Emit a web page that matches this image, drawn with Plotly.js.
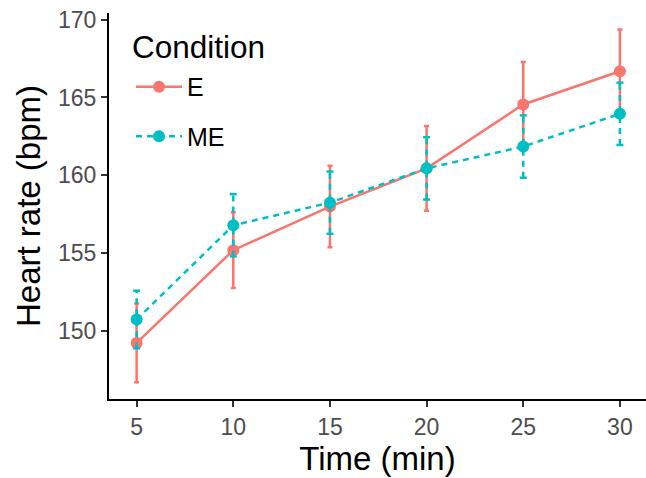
<!DOCTYPE html>
<html>
<head>
<meta charset="utf-8">
<script src="https://cdn.plot.ly/plotly-3.0.1.min.js"></script>
<style>html,body{margin:0;padding:0;background:#fff;overflow:hidden}#chart{width:646px;height:478px}</style>
</head>
<body>
<div id="chart"></div>
<script>
// Data
const time = [5, 10, 15, 20, 25, 30];
const E_mean = [149.25, 155.2, 158.0, 160.45, 164.55, 166.68];
const E_se = [2.53, 2.43, 2.62, 2.72, 2.72, 2.68];
const ME_mean = [150.75, 156.8, 158.25, 160.45, 161.85, 163.95];
const ME_se = [1.85, 2.0, 2.0, 2.0, 2.0, 2.0];
const yTicks = [150, 155, 160, 165, 170];
const legendTitle = 'Condition';

const colE = '#F8766D';
const colME = '#00BFC4';
const FONT = 'Liberation Sans, Arial, Helvetica, sans-serif';

// ME dashed error bars built from the data as null-separated segments
const meBarX = [], meBarY = [];
const meCapX = [], meCapY = [];
time.forEach((t, i) => {
  meBarX.push(t, t, null);
  meBarY.push(ME_mean[i] - ME_se[i], ME_mean[i] + ME_se[i], null);
  meCapX.push(t, t);
  meCapY.push(ME_mean[i] - ME_se[i], ME_mean[i] + ME_se[i]);
});

const traces = [
  {
    x: time, y: E_mean, name: 'E', type: 'scatter', mode: 'lines+markers',
    legendgroup: 'E',
    line: {color: colE, width: 2.5},
    marker: {color: colE, size: 12},
    error_y: {type: 'data', array: E_se, visible: true, color: colE, thickness: 2.5, width: 2.5}
  },
  {
    x: meBarX, y: meBarY, type: 'scatter', mode: 'lines', showlegend: false, hoverinfo: 'skip',
    line: {color: colME, width: 2.5, dash: '6px,5px'}, connectgaps: false
  },
  {
    x: meCapX, y: meCapY, type: 'scatter', mode: 'markers', showlegend: false, hoverinfo: 'skip',
    marker: {symbol: 'line-ew', size: 5, line: {color: colME, width: 2.5}}
  },
  {
    x: time, y: ME_mean, name: 'ME', type: 'scatter', mode: 'lines+markers',
    legendgroup: 'ME',
    line: {color: colME, width: 2.5, dash: '6px,5px'},
    marker: {color: colME, size: 12}
  }
];

const layout = {
  width: 646, height: 478,
  margin: {l: 109, r: 0, t: 13, b: 79, pad: 0},
  paper_bgcolor: '#fff', plot_bgcolor: '#fff',
  font: {family: FONT, color: '#000'},
  showlegend: true,
  legend: {
    x: 0.041, y: 0.868, xanchor: 'left', yanchor: 'top',
    bgcolor: 'rgba(0,0,0,0)',
    font: {size: 25, family: FONT, color: '#000'},
    tracegroupgap: 14,
    itemwidth: 46
  },
  annotations: [{
    text: legendTitle, xref: 'paper', yref: 'paper',
    x: 0.039, y: 0.912, xanchor: 'left', yanchor: 'middle',
    showarrow: false, font: {size: 31.5, family: FONT, color: '#000'}
  }],
  xaxis: {
    range: [3.57, 31.35],
    tickvals: time,
    ticks: 'outside', ticklen: 6, tickwidth: 2, tickcolor: '#333',
    showline: true, linewidth: 2, linecolor: '#000',
    showgrid: false, zeroline: false,
    tickfont: {size: 23, family: FONT, color: '#4D4D4D'},
    title: {text: 'Time (min)', font: {size: 33, family: FONT, color: '#000'}, standoff: 6}
  },
  yaxis: {
    range: [145.65, 170.42],
    tickvals: yTicks,
    ticks: 'outside', ticklen: 6, tickwidth: 2, tickcolor: '#333',
    showline: true, linewidth: 2, linecolor: '#000',
    showgrid: false, zeroline: false,
    tickfont: {size: 23, family: FONT, color: '#4D4D4D'},
    title: {text: 'Heart rate (bpm)', font: {size: 33, family: FONT, color: '#000'}, standoff: 7}
  }
};

Plotly.newPlot('chart', traces, layout, {displayModeBar: false, staticPlot: true});
</script>
</body>
</html>
